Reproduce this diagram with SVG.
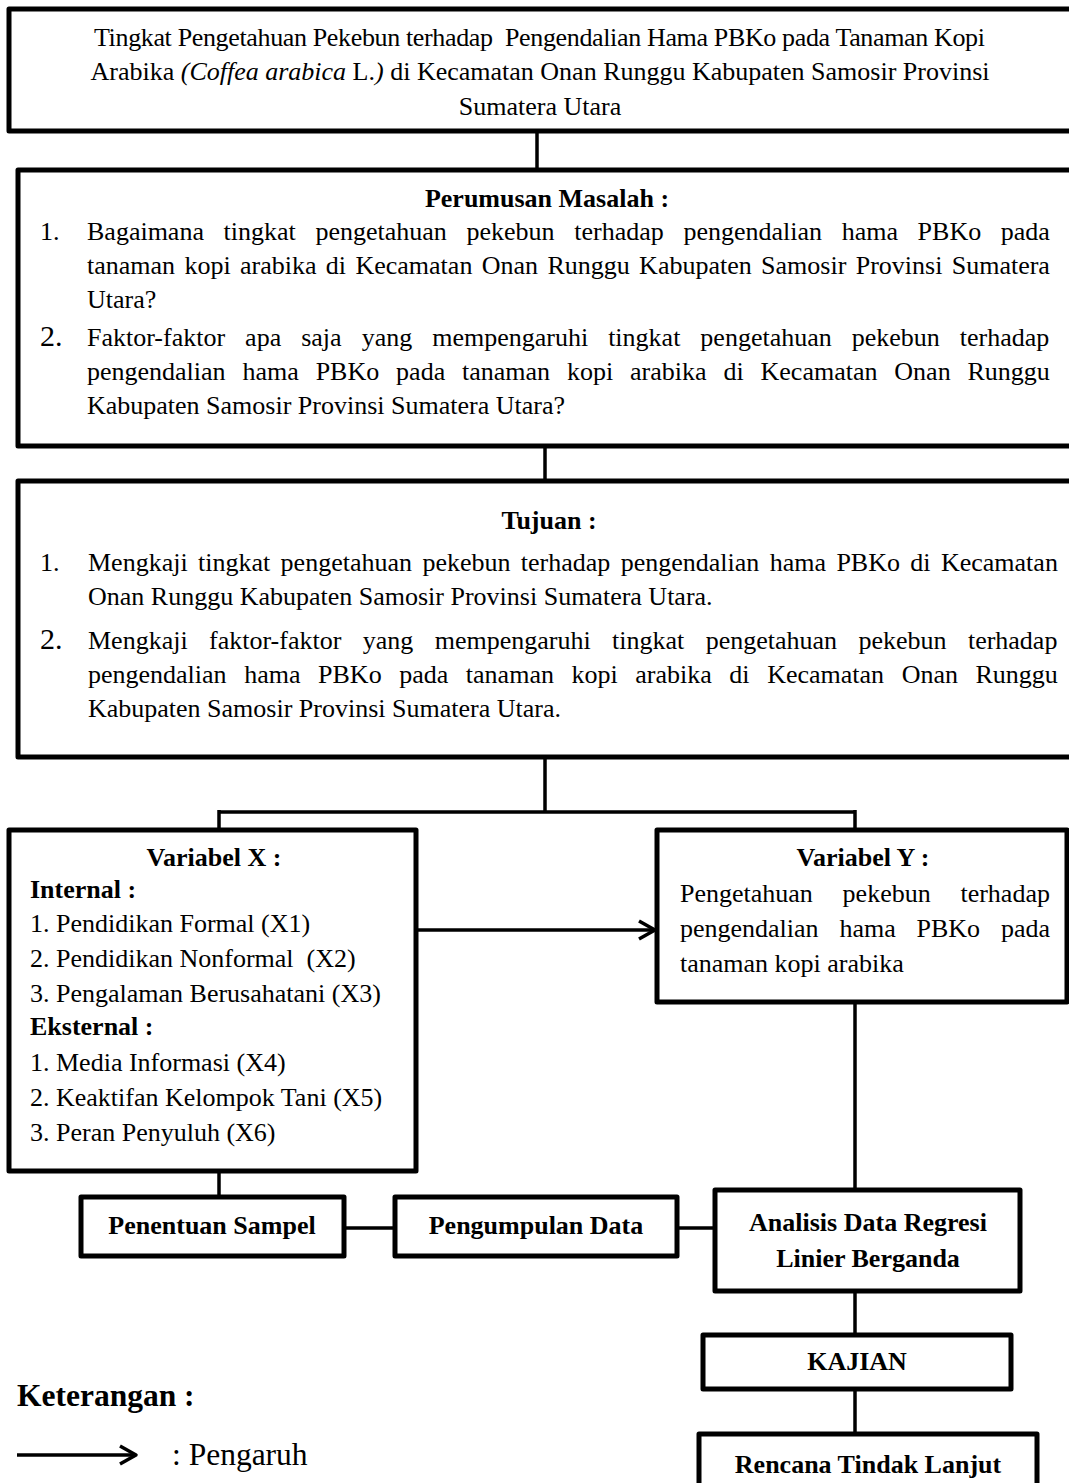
<svg xmlns="http://www.w3.org/2000/svg" width="1069" height="1483" viewBox="0 0 1069 1483">
<style>
text{font-family:"Liberation Serif","Times New Roman",serif;font-size:26px;fill:#000}
.b{font-weight:bold}
.c{text-anchor:middle}
.box{fill:#fff;stroke:#000;stroke-width:5;stroke-linejoin:round}
.ln{fill:none;stroke:#000;stroke-width:3.5}
.big{font-size:30px}
.leg{font-size:31.5px}
</style>
<defs>
<marker id="arr" viewBox="0 0 22 22" refX="19" refY="11" markerWidth="22" markerHeight="22" markerUnits="userSpaceOnUse" orient="auto">
<path d="M3,2 L19,11 L3,20" fill="none" stroke="#000" stroke-width="3.5" stroke-linejoin="round"/>
</marker>
</defs>
<rect width="1069" height="1483" fill="#fff"/>

<g id="connectors">
<path class="ln" d="M537 131 V170"/>
<path class="ln" d="M545 446 V481"/>
<path class="ln" d="M545 757 V812 M219 812 H855 M219 810 V830 M855 810 V830"/>
<path class="ln" d="M418 930 H655" marker-end="url(#arr)"/>
<path class="ln" d="M855 1002 V1192"/>
<path class="ln" d="M219 1171 V1197"/>
<path class="ln" d="M344 1228 H395"/>
<path class="ln" d="M677 1228 H716"/>
<path class="ln" d="M855 1291 V1335"/>
<path class="ln" d="M855 1389 V1434"/>
</g>

<g id="judul">
<rect class="box" x="9" y="9" width="1075" height="122"/>
<text x="94" y="46" textLength="891" lengthAdjust="spacing" xml:space="preserve">Tingkat Pengetahuan Pekebun terhadap  Pengendalian Hama PBKo pada Tanaman Kopi</text>
<text class="c" x="540" y="80">Arabika <tspan font-style="italic">(Coffea arabica</tspan> L.<tspan font-style="italic">)</tspan> di Kecamatan Onan Runggu Kabupaten Samosir Provinsi</text>
<text class="c" x="540" y="115">Sumatera Utara</text>
</g>

<g id="perumusan">
<rect class="box" x="18" y="170" width="1070" height="276"/>
<text class="b c" x="547" y="207">Perumusan Masalah :</text>
<text x="40" y="240">1.</text>
<text x="87" y="240" word-spacing="13.15">Bagaimana tingkat pengetahuan pekebun terhadap pengendalian hama PBKo pada</text>
<text x="87" y="274" word-spacing="2.86">tanaman kopi arabika di Kecamatan Onan Runggu Kabupaten Samosir Provinsi Sumatera</text>
<text x="87" y="308">Utara?</text>
<text class="big" x="40" y="346">2.</text>
<text x="87" y="346" word-spacing="13.51">Faktor-faktor apa saja yang mempengaruhi tingkat pengetahuan pekebun terhadap</text>
<text x="87" y="380" word-spacing="10.37">pengendalian hama PBKo pada tanaman kopi arabika di Kecamatan Onan Runggu</text>
<text x="87" y="414">Kabupaten Samosir Provinsi Sumatera Utara?</text>
</g>

<g id="tujuan">
<rect class="box" x="18" y="481" width="1070" height="276"/>
<text class="b c" x="549" y="529">Tujuan :</text>
<text x="40" y="571">1.</text>
<text x="88" y="571" word-spacing="3.88">Mengkaji tingkat pengetahuan pekebun terhadap pengendalian hama PBKo di Kecamatan</text>
<text x="88" y="605">Onan Runggu Kabupaten Samosir Provinsi Sumatera Utara.</text>
<text class="big" x="40" y="649">2.</text>
<text x="88" y="649" word-spacing="14.9">Mengkaji faktor-faktor yang mempengaruhi tingkat pengetahuan pekebun terhadap</text>
<text x="88" y="683" word-spacing="11.07">pengendalian hama PBKo pada tanaman kopi arabika di Kecamatan Onan Runggu</text>
<text x="88" y="717">Kabupaten Samosir Provinsi Sumatera Utara.</text>
</g>

<g id="variabel-x">
<rect class="box" x="9" y="830" width="407" height="341"/>
<text class="b c" x="214" y="866">Variabel X :</text>
<text class="b" x="30" y="898">Internal :</text>
<text x="30" y="932">1. Pendidikan Formal (X1)</text>
<text x="30" y="967" xml:space="preserve">2. Pendidikan Nonformal  (X2)</text>
<text x="30" y="1002">3. Pengalaman Berusahatani (X3)</text>
<text class="b" x="30" y="1035">Eksternal :</text>
<text x="30" y="1071">1. Media Informasi (X4)</text>
<text x="30" y="1106">2. Keaktifan Kelompok Tani (X5)</text>
<text x="30" y="1141">3. Peran Penyuluh (X6)</text>
</g>

<g id="variabel-y">
<rect class="box" x="657" y="830" width="410" height="172"/>
<text class="b c" x="863" y="866">Variabel Y :</text>
<text x="680" y="902" word-spacing="23.25">Pengetahuan pekebun terhadap</text>
<text x="680" y="937" word-spacing="14.3">pengendalian hama PBKo pada</text>
<text x="680" y="972">tanaman kopi arabika</text>
</g>

<g id="penentuan-sampel">
<rect class="box" x="81" y="1197" width="263" height="59"/>
<text class="b c" x="212" y="1234">Penentuan Sampel</text>
</g>

<g id="pengumpulan-data">
<rect class="box" x="395" y="1197" width="282" height="59"/>
<text class="b c" x="536" y="1234">Pengumpulan Data</text>
</g>

<g id="analisis">
<rect class="box" x="715" y="1190" width="305" height="101"/>
<text class="b c" x="868" y="1231">Analisis Data Regresi</text>
<text class="b c" x="868" y="1267">Linier Berganda</text>
</g>

<g id="kajian">
<rect class="box" x="703" y="1335" width="308" height="54"/>
<text class="b c" x="857" y="1370">KAJIAN</text>
</g>

<g id="rencana">
<rect class="box" x="699" y="1434" width="338" height="60"/>
<text class="b c" x="868" y="1473">Rencana Tindak Lanjut</text>
</g>

<g id="keterangan">
<text class="b leg" x="17" y="1406">Keterangan :</text>
<path class="ln" d="M17 1455 H136" marker-end="url(#arr)"/>
<text class="leg" x="172" y="1465">: Pengaruh</text>
</g>
</svg>
